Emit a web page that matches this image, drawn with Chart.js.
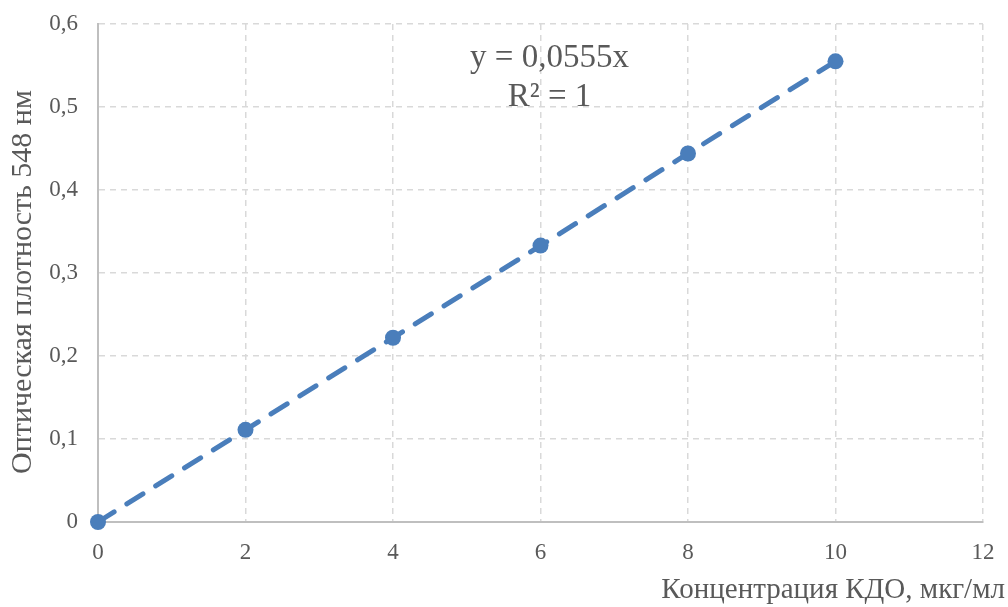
<!DOCTYPE html>
<html lang="ru">
<head>
<meta charset="utf-8">
<title>Калибровка КДО</title>
<script src="https://cdn.jsdelivr.net/npm/chart.js@4"></script>
<style>
  html, body { margin: 0; padding: 0; background: #fff; }
  #wrap { width: 1008px; height: 607px; }
</style>
</head>
<body>
<div id="wrap"><canvas id="calib" width="1008" height="607"></canvas></div>
<script>
// калибровочная кривая: концентрация КДО -> оптическая плотность
const conc = [0, 2, 4, 6, 8, 10];
const density = [0, 0.111, 0.222, 0.333, 0.444, 0.555];
const xTicks = [0, 2, 4, 6, 8, 10, 12];
const yTicks = [0, 0.1, 0.2, 0.3, 0.4, 0.5, 0.6];
const trendLabel = ['y = 0,0555x', 'R² = 1'];
const xTitle = 'Концентрация КДО, мкг/мл';
const yTitle = 'Оптическая плотность 548 нм';

const SERIF = '"Liberation Serif", "Times New Roman", serif';
const TEXT = '#595959';
const BLUE = '#4a7ebb';

const fmtComma = v => (v === 0 ? '0' : String(Number(v.toFixed(1))).replace('.', ','));

// подписи осей и уравнение тренда рисуем сами — так проще выставить позиции
const labelsPlugin = {
  id: 'labels',
  afterDraw(chart) {
    const { ctx, chartArea } = chart;
    const xs = chart.scales.x;
    const ys = chart.scales.y;
    ctx.save();
    ctx.fillStyle = TEXT;
    ctx.textAlign = 'center';
    ctx.textBaseline = 'middle';
    ctx.font = '33px ' + SERIF;
    const cx = xs.getPixelForValue(6) + 9;
    ctx.fillText(trendLabel[0], cx, ys.getPixelForValue(0.559));
    ctx.fillText(trendLabel[1], cx, ys.getPixelForValue(0.512));

    ctx.font = '29px ' + SERIF;
    ctx.textAlign = 'right';
    ctx.fillText(xTitle, chart.width - 3, chartArea.bottom + 68);

    ctx.font = '30px ' + SERIF;
    ctx.textAlign = 'center';
    ctx.translate(23, (chartArea.top + chartArea.bottom) / 2 + 9);
    ctx.rotate(-Math.PI / 2);
    ctx.fillText(yTitle, 0, 0);
    ctx.restore();
  }
};

new Chart(document.getElementById('calib'), {
  type: 'scatter',
  data: {
    datasets: [{
      data: conc.map((c, i) => ({ x: c, y: density[i] })),
      showLine: true,
      clip: false,
      borderColor: BLUE,
      borderWidth: 5,
      borderDash: [19, 15],
      borderCapStyle: 'round',
      pointRadius: 8,
      pointHoverRadius: 8,
      pointBackgroundColor: BLUE,
      pointBorderColor: BLUE,
      pointBorderWidth: 0
    }]
  },
  options: {
    responsive: false,
    animation: false,
    layout: { padding: { left: 0, right: 25, top: 24, bottom: 0 } },
    plugins: { legend: { display: false }, tooltip: { enabled: false } },
    scales: {
      x: {
        type: 'linear',
        min: 0,
        max: 12,
        afterBuildTicks: s => { s.ticks = xTicks.map(v => ({ value: v })); },
        afterFit: s => { s.height = 85; s.paddingLeft = 0; s.paddingRight = 0; },
        grid: { color: '#d9d9d9', lineWidth: 1.5, drawTicks: false },
        border: { display: true, color: '#bfbfbf', width: 2, dash: [6, 5] },
        ticks: { color: TEXT, font: { family: SERIF, size: 23 }, padding: 17 }
      },
      y: {
        min: 0,
        max: 0.6,
        afterBuildTicks: s => { s.ticks = yTicks.map(v => ({ value: v })); },
        afterFit: s => { s.width = 98; s.paddingTop = 0; s.paddingBottom = 0; },
        grid: { color: '#d9d9d9', lineWidth: 1.5, drawTicks: false },
        border: { display: true, color: '#bfbfbf', width: 2, dash: [6, 5] },
        ticks: { color: TEXT, font: { family: SERIF, size: 23 }, padding: 20, callback: fmtComma }
      }
    }
  },
  plugins: [labelsPlugin]
});
</script>
</body>
</html>
